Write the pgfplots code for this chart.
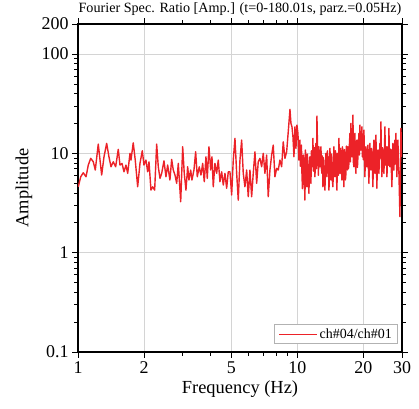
\documentclass[border=0pt]{standalone}
\usepackage{fontspec}
\setmainfont{Liberation Serif}
\newfontfamily\chartfont{Liberation Serif}
\usepackage{pgfplots}
\pgfplotsset{compat=1.18}
\usepackage{pgfplotstable}
\definecolor{specred}{RGB}{236,34,40}
\definecolor{gridgray}{RGB}{212,212,212}

% spectral ratio ch#04/ch#01 (frequency in Hz, amplitude)
\pgfplotstableread{
f A
1.003 4.60
1.029 5.80
1.057 6.37
1.088 5.80
1.114 7.61
1.143 8.89
1.174 8.21
1.199 6.78
1.237 12.38
1.282 6.04
1.314 9.22
1.351 12.58
1.384 9.22
1.414 7.31
1.448 8.21
1.485 7.31
1.526 10.95
1.554 7.61
1.587 7.91
1.621 6.51
1.655 7.61
1.685 6.28
1.726 9.98
1.744 8.54
1.786 12.75
1.824 8.54
1.871 4.60
1.917 7.91
1.964 10.60
1.999 7.61
2.041 8.54
2.078 6.51
2.107 8.21
2.151 4.26
2.190 4.60
2.236 4.26
2.284 12.38
2.323 7.31
2.365 5.59
2.407 6.28
2.466 8.40
2.518 5.80
2.563 7.61
2.625 5.38
2.673 8.68
2.719 6.78
2.768 6.04
2.818 4.98
2.866 7.91
2.939 3.25
3.001 11.63
3.051 6.28
3.106 4.26
3.162 7.31
3.206 5.38
3.264 6.78
3.308 5.38
3.378 6.78
3.439 10.35
3.498 5.80
3.572 7.31
3.636 6.04
3.702 7.91
3.765 5.17
3.832 9.22
3.885 5.59
3.955 11.63
4.026 6.78
4.081 9.22
4.137 4.60
4.211 7.91
4.287 6.28
4.360 8.54
4.438 5.17
4.519 6.51
4.596 4.79
4.677 6.28
4.762 4.44
4.842 6.51
4.929 6.51
5.018 3.80
5.103 8.54
5.195 14.12
5.289 6.28
5.378 3.38
5.475 8.54
5.573 13.58
5.668 6.28
5.770 4.60
5.874 6.78
5.973 3.65
6.081 6.78
6.190 3.65
6.295 6.28
6.408 10.35
6.524 4.98
6.634 8.21
6.753 8.89
6.875 7.31
6.991 9.98
7.117 6.28
7.245 9.59
7.368 3.65
7.501 6.78
7.636 9.59
7.765 12.09
7.904 5.80
8.047 7.05
8.183 6.78
8.330 8.54
8.480 7.31
8.624 13.05
8.779 8.89
8.938 10.35
9.089 16.46
9.254 27.65
9.351 19.99
9.450 18.48
9.549 14.66
9.650 9.22
9.752 18.48
9.854 11.20
9.958 19.22
10.063 15.86
10.169 8.54
10.276 13.58
10.330 7.4
10.385 10.35
10.439 12.1
10.494 6.28
10.549 4.4
10.605 4.98
10.661 9.6
10.717 7.31
10.773 5.2
10.830 3.38
10.887 10.8
10.944 8.54
11.002 5.5
11.060 4.60
11.118 9.8
11.177 6.78
11.236 5.0
11.295 3.95
11.354 7.8
11.414 9.22
11.474 6.2
11.535 4.98
11.596 10.6
11.656 7.31
11.717 8.1
11.779 14.12
11.841 6.6
11.904 9.98
11.967 11.4
12.029 5.80
12.092 8.4
12.156 12.58
12.220 7.0
12.285 23.67
12.350 12.6
12.414 9.22
12.479 6.0
12.545 11.63
12.611 8.0
12.678 7.31
12.745 10.2
12.812 11.63
12.879 7.0
12.947 6.28
13.015 9.4
13.084 4.60
13.153 9.0
13.222 6.78
13.292 5.1
13.361 4.26
13.432 7.6
13.502 9.98
13.573 7.4
13.645 5.80
13.717 10.6
13.789 7.31
13.861 9.2
13.934 4.26
14.007 6.0
14.081 11.20
14.155 7.6
14.230 5.38
14.305 9.8
14.380 7.31
14.456 5.2
14.532 4.60
14.608 8.2
14.685 11.63
14.762 6.7
14.840 5.80
14.918 10.6
14.997 9.22
15.076 5.8
15.155 4.26
15.235 10.0
15.314 7.91
15.395 6.0
15.476 14.12
15.557 7.4
15.639 6.28
15.721 11.2
15.804 9.22
15.887 7.0
15.971 5.38
16.055 11.6
16.140 9.98
16.225 6.2
16.310 4.60
16.396 10.9
16.482 8.54
16.569 5.4
16.656 6.28
16.744 11.8
16.832 9.98
16.920 6.8
17.009 11.63
17.098 7.0
17.189 7.91
17.279 12.4
17.370 15.86
17.461 8.2
17.553 19.99
17.645 9.4
17.738 9.22
17.831 12.8
17.926 24.23
18.020 8.0
18.115 7.31
18.210 11.6
18.306 15.86
18.402 7.6
18.499 6.28
18.596 11.8
18.694 13.58
18.792 7.2
18.892 9.22
18.991 12.2
19.091 15.86
19.191 9.6
19.292 19.22
19.393 10.8
19.496 10.77
19.598 13.2
19.702 18.48
19.805 9.2
19.910 13.58
20.014 8.6
20.120 17.12
20.225 9.4
20.332 5.80
20.438 10.8
20.546 11.63
20.654 7.4
20.763 7.31
20.872 10.2
20.982 12.09
21.092 7.0
21.203 4.98
21.314 9.6
21.427 12.58
21.539 7.2
21.653 6.78
21.766 11.2
21.882 9.98
21.996 6.8
22.113 4.60
22.228 10.4
22.346 13.58
22.463 6.5
22.582 6.28
22.700 11.8
22.820 15.25
22.940 7.2
23.061 4.44
23.182 10.6
23.304 10.77
23.426 8.0
23.550 6.28
23.673 9.6
23.798 12.58
23.923 9.0
24.049 20.75
24.175 8.8
24.303 5.80
24.430 11.4
24.559 10.77
24.688 6.8
24.818 6.28
24.949 10.6
25.080 18.48
25.212 7.6
25.345 9.22
25.478 11.6
25.612 5.80
25.746 8.2
25.882 11.63
26.018 7.6
26.155 17.80
26.293 8.4
26.431 7.31
26.570 11.0
26.710 10.77
26.850 6.4
26.992 4.60
27.134 9.6
27.276 12.58
27.420 6.8
27.564 6.78
27.709 11.2
27.855 13.58
28.001 7.8
28.149 15.86
28.297 8.2
28.446 5.80
28.595 11.0
28.746 13.58
28.897 7.6
29.049 6.28
29.355 2.30
29.665 17.80
29.950 9.22
}\ratiotable

\begin{document}
\begin{tikzpicture}
\useasboundingbox (-78bp,-57bp) rectangle (341bp,352bp);
\begin{axis}[
    at={(0bp,0bp)}, anchor=south west,
    scale only axis,
    width=324bp, height=328bp,
    xmode=log, ymode=log,
    xmin=1, xmax=30,
    ymin=0.1, ymax=200,
    xtick={1,2,5,10,20,30},
    xticklabels={1,2,5,10,20,30},
    ytick={0.1,1,10,100,200},
    yticklabels={0.1,1,10,100,200},
    minor xtick={3,4,6,7,8,9},
    minor ytick={0.2,0.3,0.4,0.5,0.6,0.7,0.8,0.9,2,3,4,5,6,7,8,9,20,30,40,50,60,70,80,90},
    tick align=outside,
    major tick length=6bp,
    minor tick length=4bp,
    every tick/.style={black, line width=0.6bp},
    grid=major,
    major grid style={gridgray, line width=0.8bp},
    axis line style={black, line width=1.3bp},
    tick label style={font=\chartfont\fontsize{18}{20}\selectfont},
    /pgf/number format/assume math mode=true,
    title={Fourier Spec. Ratio [Amp.] (t=0-180.01s, parz.=0.05Hz)},
    title style={font=\chartfont\fontsize{14.2}{16}\selectfont, at={(axis description cs:0.5,1)}, anchor=south, yshift=-1.5bp},
    xlabel={Frequency (Hz)},
    ylabel={Amplitude},
    label style={font=\chartfont\fontsize{18.5}{20}\selectfont},
    xlabel style={at={(axis description cs:0.5,-0.113)}, anchor=center},
    ylabel style={at={(axis description cs:-0.167,0.5)}, anchor=center},
    legend style={at={(axis description cs:0.988,0.024)}, anchor=south east,
        draw=gray!60, line width=0.8bp, font=\chartfont\fontsize{14}{16}\selectfont,
        inner xsep=4bp, inner ysep=2bp},
    legend cell align=left,
    legend image code/.code={\draw[#1, line width=0.9bp] (0bp,0bp) -- (38bp,0bp);},
]
\addplot[specred, line width=1.4bp, line join=round] table[x=f, y=A] {\ratiotable};
\addlegendentry{ch\#04/ch\#01}
\end{axis}
\end{tikzpicture}
\end{document}
